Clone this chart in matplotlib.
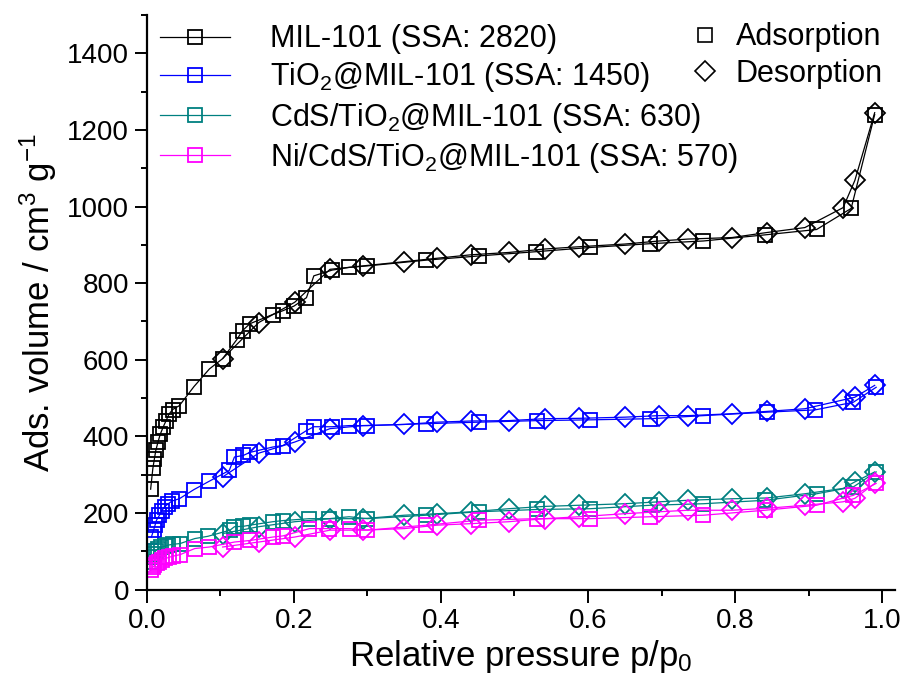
import matplotlib
matplotlib.use("Agg")
import matplotlib.pyplot as plt
from matplotlib.lines import Line2D
from matplotlib.ticker import MultipleLocator

plt.rcParams['font.family'] = ['Liberation Sans', 'DejaVu Sans']
plt.rcParams['mathtext.fontset'] = 'custom'
plt.rcParams['mathtext.rm'] = 'Liberation Sans'
plt.rcParams['mathtext.it'] = 'Liberation Sans:italic'

# N2 isotherms, adsorption branch
p_ads_mil = [0.005, 0.008, 0.010, 0.012, 0.015, 0.018, 0.022, 0.026, 0.030, 0.035, 0.044,
             0.064, 0.085, 0.103, 0.122, 0.130, 0.140, 0.171, 0.185, 0.200, 0.217, 0.227,
             0.252, 0.275, 0.300, 0.380, 0.452, 0.529, 0.603, 0.685, 0.757, 0.841, 0.911,
             0.958, 0.990]
v_ads_mil = [262, 316, 340, 363, 385, 405, 424, 441, 458, 470, 480,
             530, 576, 603, 652, 676, 694, 718, 728, 740, 762, 819,
             834, 841, 845, 860, 871, 882, 893, 903, 910, 926, 940,
             995, 1240]

p_ads_tio2 = [0.006, 0.009, 0.011, 0.013, 0.017, 0.020, 0.024, 0.029, 0.034, 0.044,
              0.064, 0.085, 0.112, 0.119, 0.131, 0.140, 0.171, 0.185, 0.217, 0.227,
              0.252, 0.275, 0.300, 0.380, 0.452, 0.531, 0.603, 0.685, 0.757, 0.843,
              0.909, 0.961, 0.992]
v_ads_tio2 = [137, 155, 168, 181, 194, 205, 216, 224, 231, 237,
              261, 283, 311, 346, 350, 358, 372, 376, 415, 425,
              425, 428, 428, 433, 437, 441, 443, 446, 454, 463,
              469, 489, 528]

p_ads_cds = [0.005, 0.007, 0.009, 0.012, 0.015, 0.019, 0.024, 0.029, 0.035, 0.045,
             0.065, 0.083, 0.113, 0.119, 0.131, 0.140, 0.171, 0.185, 0.221, 0.248,
             0.275, 0.300, 0.380, 0.452, 0.531, 0.603, 0.685, 0.757, 0.841, 0.911,
             0.961, 0.992]
v_ads_cds = [72, 85, 94, 101, 106, 110, 113, 116, 118, 120,
             133, 139, 155, 164, 165, 168, 177, 180, 185, 185,
             190, 185, 194, 203, 209, 211, 220, 224, 233, 250,
             268, 307]

p_ads_ni = [0.005, 0.008, 0.010, 0.013, 0.017, 0.020, 0.025, 0.030, 0.035, 0.045,
            0.065, 0.085, 0.119, 0.140, 0.171, 0.185, 0.221, 0.248, 0.276, 0.300,
            0.380, 0.452, 0.531, 0.603, 0.685, 0.757, 0.841, 0.911, 0.961, 0.992]
v_ads_ni = [50, 58, 63, 68, 73, 77, 81, 84, 87, 91,
            107, 111, 124, 128, 137, 140, 159, 159, 159, 155,
            168, 181, 185, 185, 190, 194, 207, 220, 246, 277]

# desorption branch (same pressure steps for all samples)
p_des = [0.990, 0.963, 0.947, 0.895, 0.843, 0.796, 0.736, 0.697, 0.650, 0.588,
         0.541, 0.492, 0.441, 0.395, 0.350, 0.294, 0.249, 0.201, 0.152, 0.103]
v_des_mil = [1245, 1068, 997, 945, 932, 919, 915, 910, 902, 895,
             889, 880, 874, 865, 856, 845, 836, 750, 697, 603]
v_des_tio2 = [533, 502, 495, 472, 465, 459, 454, 454, 450, 447,
              446, 441, 440, 437, 431, 428, 420, 385, 356, 294]
v_des_cds = [307, 281, 264, 250, 239, 237, 233, 229, 224, 220,
             217, 211, 203, 198, 194, 185, 185, 177, 164, 146]
v_des_ni = [277, 238, 229, 220, 212, 207, 207, 203, 198, 190,
            185, 177, 172, 168, 159, 155, 155, 137, 124, 111]

labels = ['MIL-101 (SSA: 2820)',
          'TiO$_2$@MIL-101 (SSA: 1450)',
          'CdS/TiO$_2$@MIL-101 (SSA: 630)',
          'Ni/CdS/TiO$_2$@MIL-101 (SSA: 570)']
colors = ['black', '#0000FF', '#008080', '#FF00FF']

series = [(p_ads_mil, v_ads_mil, v_des_mil),
          (p_ads_tio2, v_ads_tio2, v_des_tio2),
          (p_ads_cds, v_ads_cds, v_des_cds),
          (p_ads_ni, v_ads_ni, v_des_ni)]

fig = plt.figure(figsize=(9.1, 6.82), dpi=100)
ax = fig.add_axes([0.1615, 0.1356, 0.8215, 0.8424])

handles = []
for (pa, va, vd), c, lab in zip(series, colors, labels):
    h, = ax.plot(pa, va, '-', color=c, lw=0.9, marker='s', ms=10.5,
                 mfc='none', mec=c, mew=1.3, label=lab)
    ax.plot(p_des, vd, '-', color=c, lw=0.9, marker='D', ms=10.5,
            mfc='none', mec=c, mew=1.3)
    handles.append(h)

ax.set_xlim(0, 1.017)
ax.set_ylim(0, 1500)
ax.xaxis.set_minor_locator(MultipleLocator(0.1))
ax.yaxis.set_minor_locator(MultipleLocator(100))
ax.set_yticks(range(0, 1401, 200))
ax.set_xticks([0.0, 0.2, 0.4, 0.6, 0.8, 1.0])
ax.set_xticklabels(['0.0', '0.2', '0.4', '0.6', '0.8', '1.0'])

for s in ['top', 'right']:
    ax.spines[s].set_visible(False)
for s in ['left', 'bottom']:
    ax.spines[s].set_linewidth(1.6)
ax.tick_params(which='major', direction='out', length=9, width=1.4, labelsize=20, pad=4)
ax.tick_params(which='minor', direction='out', length=4.5, width=1.4)

ax.set_xlabel('Relative pressure p/p$_0$', fontsize=25, labelpad=3)
ax.set_ylabel('Ads. volume / cm$^3$ g$^{-1}$', fontsize=25, labelpad=6)

leg1 = ax.legend(handles=handles, loc='upper left', bbox_to_anchor=(-0.011, 1.021),
                 frameon=False, fontsize=22, handlelength=2.3, handletextpad=1.3,
                 labelspacing=0.2, borderaxespad=0.3)
ax.add_artist(leg1)

kind = [Line2D([], [], ls='none', marker='s', ms=10, mfc='none', mec='black', mew=1.2),
        Line2D([], [], ls='none', marker='D', ms=10, mfc='none', mec='black', mew=1.2)]
ax.legend(kind, ['Adsorption', 'Desorption'], loc='upper right',
          bbox_to_anchor=(1.021, 1.035), frameon=False, fontsize=22,
          handlelength=1.0, handletextpad=0.5, labelspacing=0.22)

fig.savefig('out.png', dpi=100)
